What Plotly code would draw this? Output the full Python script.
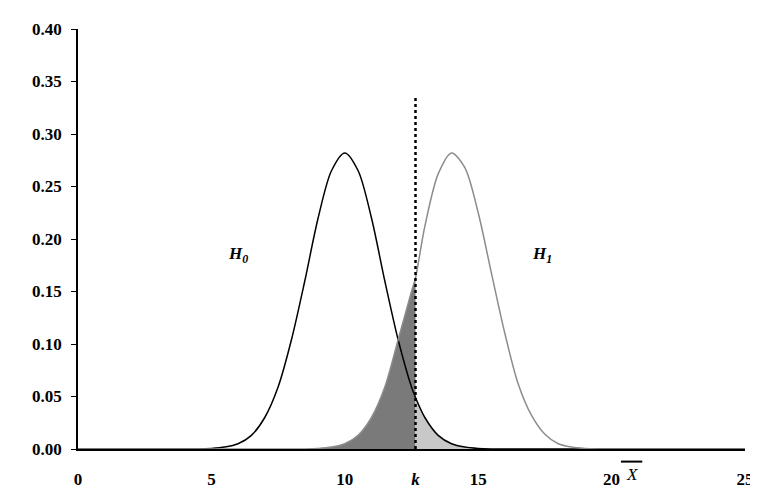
import plotly.graph_objects as go

# densities (0.5 steps, with the critical value k inserted)
x = [0, 0.5, 1, 1.5, 2, 2.5, 3, 3.5, 4, 4.5, 5, 5.5, 6, 6.5, 7, 7.5, 8, 8.5, 9, 9.5,
     10, 10.5, 11, 11.5, 12, 12.5, 12.65, 13, 13.5, 14, 14.5, 15, 15.5, 16, 16.5, 17,
     17.5, 18, 18.5, 19, 19.5, 20, 20.5, 21, 21.5, 22, 22.5, 23, 23.5, 24, 24.5, 25]
h0 = [0, 0, 0, 0, 0, 0, 0, 0, 0, 0, 0.0005, 0.0018, 0.005, 0.013, 0.030, 0.059, 0.104,
      0.160, 0.220, 0.265, 0.282, 0.265, 0.220, 0.160, 0.104, 0.059, 0.049, 0.030,
      0.013, 0.005, 0.0018, 0.0005, 0.0001, 0, 0, 0, 0, 0, 0, 0, 0, 0, 0, 0, 0, 0,
      0, 0, 0, 0, 0, 0]
h1 = [0, 0, 0, 0, 0, 0, 0, 0, 0, 0, 0, 0, 0, 0, 0, 0, 0, 0, 0.0005, 0.0018, 0.005,
      0.013, 0.030, 0.059, 0.104, 0.150, 0.163, 0.212, 0.262, 0.282, 0.268, 0.225,
      0.167, 0.110, 0.062, 0.032, 0.014, 0.005, 0.0018, 0.0005, 0.0001, 0, 0, 0, 0,
      0, 0, 0, 0, 0, 0, 0]
k = 12.65
k_top = 0.335

xticks = [0, 5, 10, k, 15, 20, 25]
xlabels = ["0", "5", "10", "<i>k</i>", "15", "20", "25"]
yticks = [0, 0.05, 0.10, 0.15, 0.20, 0.25, 0.30, 0.35, 0.40]

ik = x.index(k)
sm = 0.85
fig = go.Figure()
# beta region: under H1 left of k
fig.add_trace(go.Scatter(x=x[:ik + 1], y=h1[:ik + 1], mode="lines",
                         line=dict(width=0, shape="spline", smoothing=sm),
                         fill="tozeroy", fillcolor="#7a7a7a", hoverinfo="skip"))
# alpha region: under H0 right of k
fig.add_trace(go.Scatter(x=x[ik:], y=h0[ik:], mode="lines",
                         line=dict(width=0, shape="spline", smoothing=sm),
                         fill="tozeroy", fillcolor="#c8c8c8", hoverinfo="skip"))
fig.add_trace(go.Scatter(x=x, y=h0, mode="lines", line=dict(color="black", width=1.5, shape="spline", smoothing=sm)))
fig.add_trace(go.Scatter(x=x, y=h1, mode="lines", line=dict(color="#8c8c8c", width=1.5, shape="spline", smoothing=sm)))
fig.add_trace(go.Scatter(x=[k, k], y=[0, k_top], mode="lines", line=dict(color="black", width=2.5, dash="dot")))

font = dict(family="Liberation Serif, Times New Roman, serif", size=17, color="black")
fig.add_annotation(x=6.0, y=0.185, text="<b><i>H<sub>0</sub></i></b>", showarrow=False, font=font)
fig.add_annotation(x=17.4, y=0.185, text="<b><i>H<sub>1</sub></i></b>", showarrow=False, font=font)
fig.add_annotation(x=20.75, y=0, yref="paper", yanchor="top", yshift=-14,
                   text="<i>X</i>", showarrow=False, font=font)
fig.add_shape(type="line", x0=20.35, x1=21.15, xref="x", y0=-0.03, y1=-0.03, yref="paper",
              line=dict(color="black", width=2))

fig.update_layout(
    width=758, height=493, showlegend=False,
    plot_bgcolor="white", paper_bgcolor="white",
    margin=dict(l=70, r=14, t=18, b=43),
    font=dict(family="Liberation Serif, Times New Roman, serif", size=17, color="black"),
    xaxis=dict(range=[0, 25], tickvals=xticks, ticktext=["<b>%s</b>" % t for t in xlabels],
               showgrid=False, zeroline=False, showline=True, linecolor="black", linewidth=1.5,
               ticks="", ticklabelstandoff=14),
    yaxis=dict(range=[0, 0.40], tickvals=yticks, ticktext=["<b>%.2f</b>" % v for v in yticks],
               showgrid=False, zeroline=False, showline=True, linecolor="black", linewidth=1.5,
               ticks="outside", ticklen=5, tickcolor="black", ticklabelstandoff=6),
)
fig.write_html("out.html")
